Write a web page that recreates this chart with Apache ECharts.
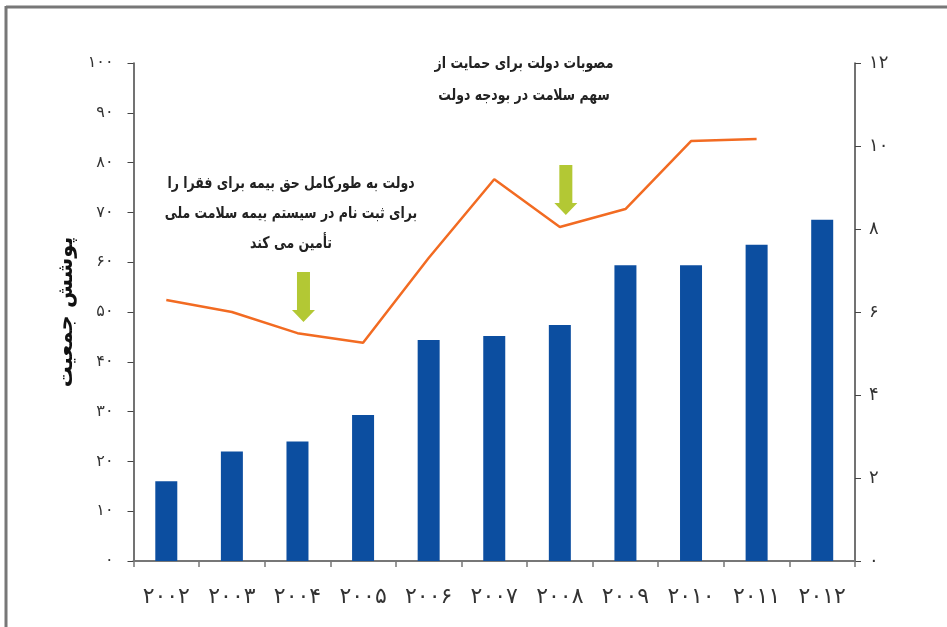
<!DOCTYPE html>
<html><head><meta charset="utf-8">
<script src="https://cdn.jsdelivr.net/npm/echarts@6/dist/echarts.min.js"></script>
<style>html,body{margin:0;padding:0;background:#fff}#c{width:947px;height:627px}</style>
</head><body><div id="c"></div>
<script>
const years = ['2002','2003','2004','2005','2006','2007','2008','2009','2010','2011','2012'];
const coverage = [16, 22, 24, 29.3, 44.4, 45.2, 47.4, 59.4, 59.4, 63.5, 68.5];
const spending = [6.29, 6.0, 5.49, 5.26, 7.3, 9.2, 8.05, 8.48, 10.12, 10.17, null];
const arrowMarks = [['2004', 6.36], ['2008', 8.94]];
const leftAxisName = 'پوشش جمعیت';
const note1 = ['دولت به طورکامل حق بیمه برای فقرا را', 'برای ثبت نام در سیستم بیمه سلامت ملی', 'تأمین می کند'];
const note2 = ['مصوبات دولت برای حمایت از', 'سهم سلامت در بودجه دولت'];

const fa = s => String(s).replace(/[0-9]/g, d => '۰۱۲۳۴۵۶۷۸۹'[+d]);
const FONT = 'DejaVu Sans';
const chart = echarts.init(document.getElementById('c'));
const arrowPath = 'path://M5,0 L18,0 L18,38 L23,38 L11.5,50 L0,38 L5,38 Z';

const textEls = [];
note1.forEach((t, i) => textEls.push({type:'text', x:291, y:184 + i*30, scaleX:0.78,
  style:{text:t, x:0, y:0, textAlign:'center', textVerticalAlign:'middle', font:'bold 16px "DejaVu Sans"', fill:'#222'}}));
note2.forEach((t, i) => textEls.push({type:'text', x:524, y:64 + i*32, scaleX:0.78,
  style:{text:t, x:0, y:0, textAlign:'center', textVerticalAlign:'middle', font:'bold 16px "DejaVu Sans"', fill:'#222'}}));

chart.setOption({
  animation: false,
  backgroundColor: '#fff',
  grid: {left: 133.5, right: 92, top: 63, bottom: 66},
  xAxis: {
    type: 'category', data: years,
    axisLine: {lineStyle: {color: '#777', width: 2}},
    axisTick: {show: true, length: 6, lineStyle: {color: '#777', width: 1.5}},
    axisLabel: {formatter: v => fa(v), fontFamily: FONT, fontSize: 22, color: '#333', margin: 25}
  },
  yAxis: [
    {type: 'value', min: 0, max: 100, interval: 10, position: 'left',
     name: leftAxisName, nameLocation: 'middle', nameRotate: 90, nameGap: 50,
     nameTextStyle: {fontFamily: FONT, fontSize: 21, fontWeight: 'bold', color: '#111'},
     axisLine: {show: true, lineStyle: {color: '#444', width: 1.5}},
     axisTick: {show: true, length: 6, lineStyle: {color: '#444'}},
     splitLine: {show: false},
     axisLabel: {formatter: v => fa(v), fontFamily: FONT, fontSize: 16, color: '#333', margin: 20}},
    {type: 'value', min: 0, max: 12, interval: 2, position: 'right',
     axisLine: {show: true, lineStyle: {color: '#444', width: 1.5}},
     axisTick: {show: true, length: 6, lineStyle: {color: '#444'}},
     splitLine: {show: false},
     axisLabel: {formatter: v => fa(v), fontFamily: FONT, fontSize: 18, color: '#333', margin: 14}}
  ],
  series: [
    {type: 'bar', data: coverage, yAxisIndex: 0, barWidth: 22, itemStyle: {color: '#0c4ea0'}},
    {type: 'line', data: spending, yAxisIndex: 1, symbol: 'none', lineStyle: {color: '#f26b22', width: 2.5},
     itemStyle: {color: '#f26b22'},
     markPoint: {symbol: arrowPath, symbolSize: [23, 50], symbolOffset: [6, 0], silent: true,
       itemStyle: {color: '#b3c834'}, label: {show: false},
       data: arrowMarks.map(a => ({coord: a}))}}
  ],
  graphic: [
    {type: 'line', shape: {x1: 6, y1: 7, x2: 947, y2: 7}, style: {stroke: '#777', lineWidth: 3}},
    {type: 'line', shape: {x1: 6, y1: 6, x2: 6, y2: 627}, style: {stroke: '#777', lineWidth: 3}},
    ...textEls
  ]
});
</script></body></html>
